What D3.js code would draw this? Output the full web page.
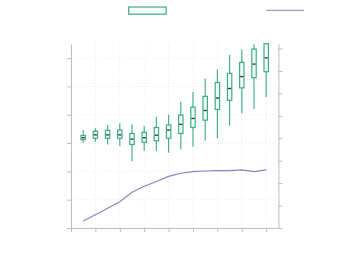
<!DOCTYPE html>
<html><head><meta charset="utf-8">
<script src="https://cdn.jsdelivr.net/npm/d3@7"></script>
<style>body{margin:0;background:#fff}svg{display:block}</style>
</head><body>
<svg id="c" width="354" height="275"></svg>
<script>
const positions = [1,2,3,4,5,6,7,8,9,10,11,12,13,14,15,16];
const whiskerLow  = [3.01,3.05,2.95,2.89,2.36,2.73,2.72,2.67,2.78,2.87,3.08,3.17,3.61,4.05,4.20,4.63];
const q1          = [3.12,3.17,3.17,3.17,2.95,3.03,3.08,3.17,3.34,3.55,3.81,4.19,4.51,4.95,5.31,5.52];
const median      = [3.19,3.29,3.29,3.29,3.14,3.19,3.28,3.46,3.66,3.87,4.15,4.59,4.93,5.35,5.79,6.01];
const q3          = [3.27,3.42,3.45,3.46,3.34,3.38,3.55,3.64,3.99,4.27,4.65,5.14,5.46,5.85,6.32,6.51];
const whiskerHigh = [3.46,3.52,3.64,3.70,3.66,3.61,3.92,4.00,4.46,4.81,5.28,5.60,6.11,6.31,6.49,6.52];
const lineValues  = [0.31,0.59,0.88,1.17,1.59,1.86,2.07,2.30,2.44,2.51,2.54,2.56,2.56,2.59,2.51,2.59];
const xTicks = [0,2,4,6,8,10,12,14,16];
const leftTicks = [0,1,2,3,4,5,6];
const rightTicks = [0,1,2,3,4,5,6,7,8];

const svg = d3.select('#c');
const x = d3.scaleLinear().domain([0,17]).range([71,278.4]);
const yL = d3.scaleLinear().domain([0,6.5]).range([228,44]);
const yR = d3.scaleLinear().domain([0,8.2]).range([228,44]);
const axisColor = '#bdbdbd';
const green = '#1b9e77', purple = '#7570b3';

// grid
const g = svg.append('g');
g.selectAll('.vg').data(xTicks.slice(1)).join('line')
  .attr('x1', d=>x(d)).attr('x2', d=>x(d)).attr('y1', 44).attr('y2', 228)
  .attr('stroke', '#ececec').attr('stroke-dasharray', '1,2');
g.selectAll('.hg').data(leftTicks.slice(1)).join('line')
  .attr('x1', 71).attr('x2', 278.4).attr('y1', d=>yL(d)).attr('y2', d=>yL(d))
  .attr('stroke', '#ececec').attr('stroke-dasharray', '1,2');

function styleAxis(sel){
  sel.selectAll('path,line').attr('stroke', axisColor);
  sel.selectAll('text').remove();
}
svg.append('g').attr('transform','translate(0,228)')
  .call(d3.axisBottom(x).tickValues(xTicks).tickSize(4).tickSizeOuter(0).tickFormat('')).call(styleAxis);
svg.append('g').attr('transform','translate(71,0)')
  .call(d3.axisLeft(yL).tickValues(leftTicks).tickSize(4).tickSizeOuter(0).tickFormat('')).call(styleAxis);
svg.append('g').attr('transform','translate(278.4,0)')
  .call(d3.axisRight(yR).tickValues(rightTicks).tickSize(4).tickSizeOuter(0).tickFormat('')).call(styleAxis);

// line
const line = d3.line().x((d,i)=>x(positions[i])).y(d=>yR(d));
svg.append('path').datum(lineValues).attr('d', line)
  .attr('fill','none').attr('stroke', purple).attr('stroke-width', 1.2).attr('opacity',0.85);

// boxes
const bw = 4.4;
const boxes = svg.append('g');
positions.forEach((p,i)=>{
  const cx = x(p);
  boxes.append('line').attr('x1',cx).attr('x2',cx).attr('y1',yL(whiskerLow[i])).attr('y2',yL(q1[i]))
    .attr('stroke',green).attr('stroke-width',1.2).attr('opacity',0.8);
  boxes.append('line').attr('x1',cx).attr('x2',cx).attr('y1',yL(q3[i])).attr('y2',yL(whiskerHigh[i]))
    .attr('stroke',green).attr('stroke-width',1.2).attr('opacity',0.8);
  boxes.append('rect').attr('x',cx-bw/2).attr('width',bw)
    .attr('y',yL(q3[i])).attr('height',yL(q1[i])-yL(q3[i]))
    .attr('fill','#f3faf7').attr('stroke',green).attr('stroke-width',1.2).attr('opacity',0.85);
  boxes.append('line').attr('x1',cx-bw/2+0.6).attr('x2',cx+bw/2-0.6).attr('y1',yL(median[i])).attr('y2',yL(median[i]))
    .attr('stroke','#333').attr('stroke-width',1.3);
});

// legend
svg.append('rect').attr('x',128.7).attr('y',7).attr('width',37.5).attr('height',7.2)
  .attr('fill','#f6fbf9').attr('stroke',green).attr('stroke-width',1.2).attr('opacity',0.85);
svg.append('line').attr('x1',266.3).attr('x2',304).attr('y1',10.3).attr('y2',10.3)
  .attr('stroke',purple).attr('stroke-width',1.3).attr('opacity',0.7);
</script>
</body></html>
